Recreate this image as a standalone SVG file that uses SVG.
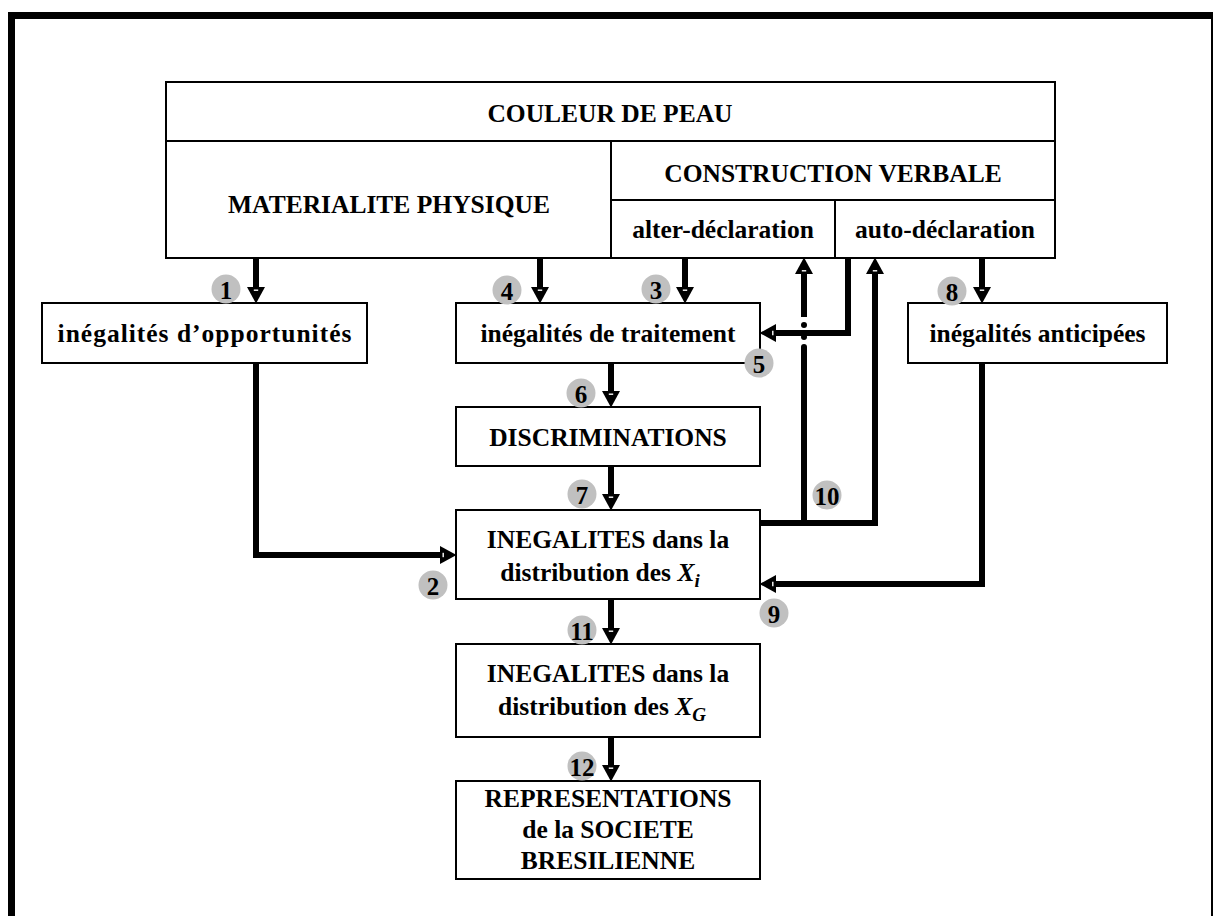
<svg xmlns="http://www.w3.org/2000/svg" width="1213" height="916" viewBox="0 0 1213 916">
<style>
.box{fill:#fff;stroke:#000;stroke-width:2}
.t{font-family:"Liberation Serif","Times New Roman",serif;font-weight:bold;font-size:25.5px;fill:#000;text-anchor:middle}
.it{font-style:italic}
.sub{font-style:italic;font-size:19px}
.c{fill:#c0c0c0}
.n{font-family:"Liberation Serif","Times New Roman",serif;font-weight:bold;font-size:25px;fill:#000;text-anchor:middle}
.ln{fill:none;stroke:#000;stroke-width:6}
</style>
<defs>
<marker id="ah" markerUnits="userSpaceOnUse" markerWidth="17" markerHeight="18" refX="0" refY="9" orient="auto" overflow="visible">
<path d="M0,0 L16.5,9 L0,18 Z" fill="#000"/>
<rect x="2.5" y="6.8" width="1.4" height="4.4" fill="#fff"/>
</marker>
</defs>
<rect x="11.5" y="15.5" width="1203" height="910" fill="none" stroke="#000" stroke-width="7"/>

<g id="couleur">
<rect class="box" x="166" y="82" width="889" height="59"/>
<text class="t" x="610" y="122">COULEUR DE PEAU</text>
</g>
<g id="materialite">
<rect class="box" x="166" y="141" width="445" height="117"/>
<text class="t" x="389" y="213">MATERIALITE PHYSIQUE</text>
</g>
<g id="construction">
<rect class="box" x="611" y="141" width="444" height="59"/>
<text class="t" x="833" y="182">CONSTRUCTION VERBALE</text>
</g>
<g id="alter">
<rect class="box" x="611" y="200" width="224" height="58"/>
<text class="t" x="723" y="238">alter-déclaration</text>
</g>
<g id="auto">
<rect class="box" x="835" y="200" width="220" height="58"/>
<text class="t" x="945" y="238">auto-déclaration</text>
</g>
<g id="opportunites">
<rect class="box" x="42" y="303" width="325" height="60"/>
<text class="t" x="205" y="342" letter-spacing="1">inégalités d’opportunités</text>
</g>
<g id="traitement">
<rect class="box" x="456" y="303" width="304" height="60"/>
<text class="t" x="608" y="342">inégalités de traitement</text>
</g>
<g id="anticipees">
<rect class="box" x="908" y="303" width="259" height="60"/>
<text class="t" x="1037.5" y="342">inégalités anticipées</text>
</g>
<g id="discriminations">
<rect class="box" x="456" y="407" width="304" height="59"/>
<text class="t" x="608" y="446">DISCRIMINATIONS</text>
</g>
<g id="inegalites-xi">
<rect class="box" x="456" y="510" width="304" height="89"/>
<text class="t" x="608" y="548">INEGALITES dans la</text>
<text class="t" x="600" y="581">distribution des <tspan class="it">X</tspan><tspan class="sub" dy="6">i</tspan></text>
</g>
<g id="inegalites-xg">
<rect class="box" x="456" y="644" width="304" height="93"/>
<text class="t" x="608" y="682">INEGALITES dans la</text>
<text class="t" x="602" y="715">distribution des <tspan class="it">X</tspan><tspan class="sub" dy="6">G</tspan></text>
</g>
<g id="representations">
<rect class="box" x="456" y="781" width="304" height="98"/>
<text class="t" x="608" y="807">REPRESENTATIONS</text>
<text class="t" x="608" y="838">de la SOCIETE</text>
<text class="t" x="608" y="869">BRESILIENNE</text>
</g>

<g id="connectors">
<path class="ln" d="M256,258 V287" marker-end="url(#ah)"/>
<path class="ln" d="M540,258 V287" marker-end="url(#ah)"/>
<path class="ln" d="M685,258 V287" marker-end="url(#ah)"/>
<path class="ln" d="M982,258 V287" marker-end="url(#ah)"/>
<path class="ln" d="M611,363 V391" marker-end="url(#ah)"/>
<path class="ln" d="M611,466 V494" marker-end="url(#ah)"/>
<path class="ln" d="M611,599 V628" marker-end="url(#ah)"/>
<path class="ln" d="M611,737 V765" marker-end="url(#ah)"/>
<path class="ln" d="M256,363 V555 H440" marker-end="url(#ah)"/>
<path class="ln" d="M982,363 V584 H776" marker-end="url(#ah)"/>
<path class="ln" d="M848,258 V333 H776" marker-end="url(#ah)"/>
<path class="ln" d="M760,523 H875 V274" marker-end="url(#ah)"/>
<path class="ln" d="M804,523 V347" stroke-linecap="round"/>
<path class="ln" d="M804,317 V274" marker-end="url(#ah)"/>
<circle cx="804" cy="325" r="3" fill="#000"/>
<circle cx="804" cy="337" r="3" fill="#000"/>
</g>

<g id="labels">
<g id="l1"><circle class="c" cx="226" cy="289" r="14.5"/><text class="n" x="226" y="298.5">1</text></g>
<g id="l2"><circle class="c" cx="433" cy="585" r="14.5"/><text class="n" x="433" y="594.5">2</text></g>
<g id="l3"><circle class="c" cx="656" cy="289" r="14.5"/><text class="n" x="656" y="298.5">3</text></g>
<g id="l4"><circle class="c" cx="507" cy="290" r="14.5"/><text class="n" x="507" y="299.5">4</text></g>
<g id="l5"><circle class="c" cx="759" cy="363" r="14.5"/><text class="n" x="759" y="372.5">5</text></g>
<g id="l6"><circle class="c" cx="581" cy="393" r="14.5"/><text class="n" x="581" y="402.5">6</text></g>
<g id="l7"><circle class="c" cx="582" cy="494" r="14.5"/><text class="n" x="582" y="503.5">7</text></g>
<g id="l8"><circle class="c" cx="952" cy="291" r="14.5"/><text class="n" x="952" y="300.5">8</text></g>
<g id="l9"><circle class="c" cx="774" cy="613" r="14.5"/><text class="n" x="774" y="622.5">9</text></g>
<g id="l10"><circle class="c" cx="827" cy="495" r="14.5"/><text class="n" x="827" y="504.5">10</text></g>
<g id="l11"><circle class="c" cx="582" cy="630" r="14.5"/><text class="n" x="582" y="639.5">11</text></g>
<g id="l12"><circle class="c" cx="582" cy="766" r="14.5"/><text class="n" x="582" y="775.5">12</text></g>
</g>
</svg>
